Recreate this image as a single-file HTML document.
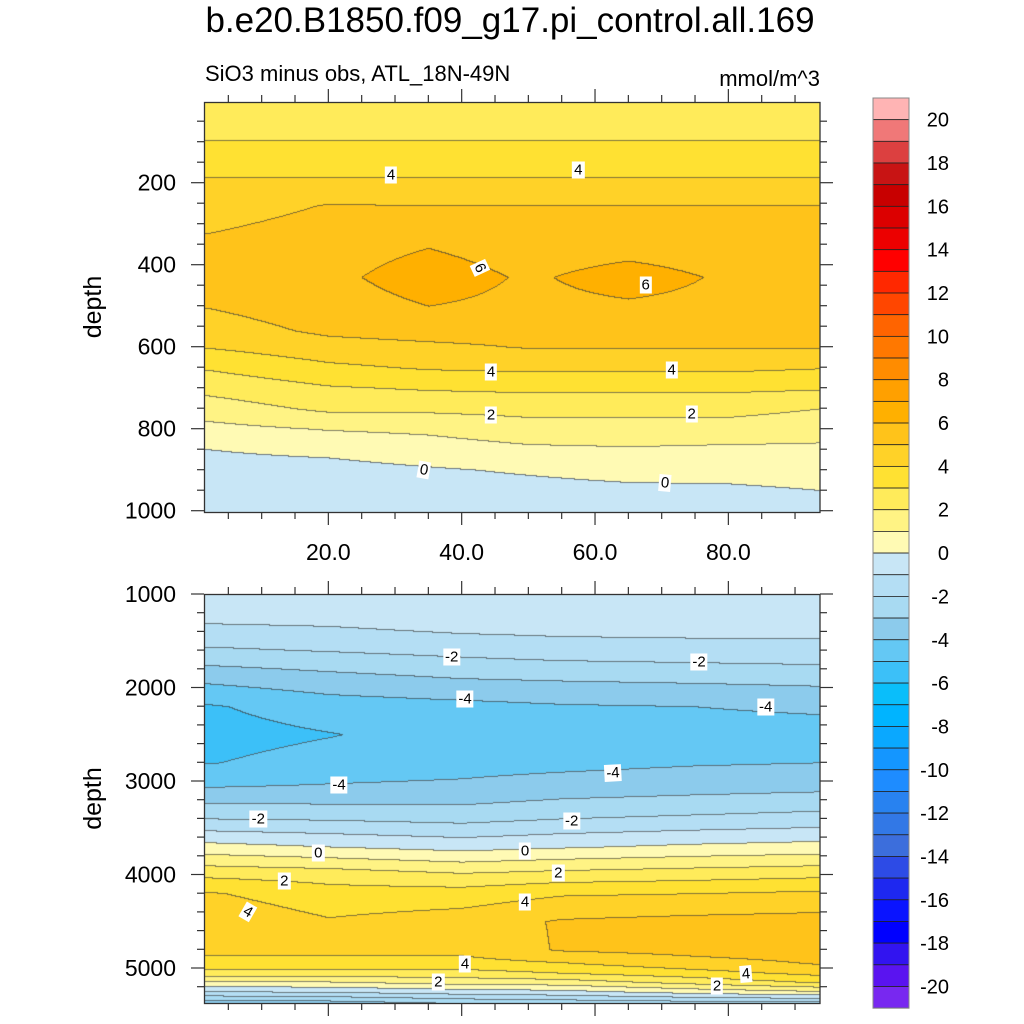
<!DOCTYPE html>
<html><head><meta charset="utf-8">
<style>
html,body{margin:0;padding:0;background:#fff;}
#root{position:relative;width:1024px;height:1024px;overflow:hidden;font-family:"Liberation Sans",sans-serif;color:#000;}
.t{position:absolute;white-space:nowrap;}
canvas{position:absolute;}
.cl{position:absolute;background:#fff;font-size:15px;line-height:17px;padding:0 2px;transform:translate(-50%,-50%);}
</style></head>
<body>
<div id="root">
<div class="t" style="left:0;width:1020px;text-align:center;top:1px;font-size:35px;">b.e20.B1850.f09_g17.pi_control.all.169</div>
<div class="t" style="left:205px;top:61px;font-size:22px;">SiO3 minus obs, ATL_18N-49N</div>
<div class="t" style="left:520px;width:300px;text-align:right;top:66px;font-size:22px;">mmol/m^3</div>
<canvas id="c1" width="616" height="410" style="left:204px;top:102px"></canvas>
<canvas id="c2" width="616" height="409" style="left:204px;top:594px"></canvas>
<svg id="ov" width="1024" height="1024" style="position:absolute;left:0;top:0"></svg>
<div id="labels"></div>
</div>
<script>
// ---- data ----
const colors = ["#FFB4B4","#F07878","#DC4040","#C81414","#C80000","#DC0000","#EC0000","#FF0000","#FF2800","#FF4600","#FF6400","#FF7800","#FF8C00","#FFA000","#FFB000","#FFC31A","#FFD228","#FFE132","#FFEB5A","#FFF384","#FFFAB4",
"#C8E6F6","#B4DEF4","#A8DAF2","#8CCBEC","#64C8F4","#3CC0F8","#0ABEFA","#00B4FF","#0AA8FF","#1496FF","#1E8CFF","#2882F0","#3278E6","#3C6EDC","#2D4BE6","#1E28F0","#0A14FF","#0000FF","#3214F0","#5A14F0","#7828F0"];
const cbLabels = [20,18,16,14,12,10,8,6,4,2,0,-2,-4,-6,-8,-10,-12,-14,-16,-18,-20];
const xTicks = [20,40,60,80];
const xTickLabels = ["20.0","40.0","60.0","80.0"];
const topDepthTicks = [200,400,600,800,1000];
const botDepthTicks = [1000,2000,3000,4000,5000];

const topCols = [2,20,35,50,65,80,94];
const topDepths = [0,50,97,185,255,350,430,500,560,600,650,700,750,800,850,900,950,1000];
const topVals = [
 [2.6,2.8,3,4,4.5,5.2,5.5,5.05,4.5,4.05,3.1,2.3,1.5,0.7,0,-0.3,-0.5,-0.6],
 [2.6,2.8,3,4,5.05,5.6,5.8,5.6,5.2,4.6,3.8,2.9,2.2,1.05,0.2,-0.3,-0.5,-0.6],
 [2.6,2.8,3,4,5.0,5.95,6.4,6.0,5.4,4.8,4.1,3.1,2.2,1.2,0.5,-0.1,-0.4,-0.6],
 [2.6,2.8,3,4,5.0,5.6,5.9,5.8,5.4,5.05,4.2,3.2,2.3,1.6,0.8,0.1,-0.3,-0.5],
 [2.6,2.8,3,4,5.0,5.7,6.3,5.9,5.4,5.05,4.2,3.2,2.3,1.6,0.9,0.3,-0.2,-0.5],
 [2.6,2.8,3,4,5.0,5.6,5.9,5.8,5.4,5.05,4.2,3.2,2.3,1.6,0.8,0.4,-0.2,-0.4],
 [2.6,2.8,3,4,5.0,5.6,5.9,5.8,5.4,5.05,4.05,3.1,2.0,1.4,0.8,0.5,0.0,-0.3]
];
const botCols = [2,20,40,55,75,94];
const botDepths = [1000,1300,1600,1900,2200,2500,2800,3100,3400,3700,4000,4200,4500,4800,4950,5050,5150,5250,5375];
const botVals = [
 [-0.3,-0.95,-2.15,-3.75,-5.1,-5.4,-5.05,-3.85,-2.0,0.35,2.8,4.1,4.8,4.3,3.5,2.6,0.8,-1.05,-3.8],
 [-0.3,-0.85,-1.95,-3.35,-4.5,-5.05,-4.6,-3.8,-2.1,0.0,2.6,3.4,4.1,4.3,3.5,2.6,0.9,-0.9,-3.6],
 [-0.2,-0.55,-1.7,-3.0,-4.3,-4.6,-4.4,-3.7,-2.3,-0.35,2.15,3.45,4.5,4.3,3.6,2.6,1.35,-0.5,-3.0],
 [-0.1,-0.5,-1.5,-2.9,-4.1,-4.5,-4.3,-3.4,-2.0,-0.1,2.4,3.9,5.1,5.1,3.9,3.0,1.5,-0.3,-2.8],
 [0.0,-0.5,-1.4,-2.8,-4.0,-4.5,-4.1,-3.2,-1.8,0.2,2.6,4.0,5.3,5.35,4.6,3.6,2.3,0.4,-2.6],
 [-0.2,-0.6,-1.3,-2.7,-3.8,-4.5,-4.0,-3.05,-1.6,0.4,2.8,4.2,5.4,5.5,5.05,4.3,3.1,0.9,-2.5]
];
const topLabelText = ["4","4","6","6","4","4","2","2","0","0"];
const topLabelX = [29.4,57.5,42.7,67.6,44.4,71.5,44.4,74.5,34.3,70.5];
const topLabelD = [181,169,408,450,662,657,767,764,900,932];
const topLabelRot = [0,0,65,0,0,0,0,0,10,5];
const botLabelText = ["-2","-2","-4","-4","-4","-4","-2","-2","0","0","2","2","4","4","4","2","4","2"];
const botLabelX = [38.5,75.6,40.5,85.6,21.6,62.7,9.5,56.5,18.5,49.5,13.4,54.5,8.0,49.5,40.5,36.5,82.6,78.3];
const botLabelD = [1674,1727,2123,2209,3043,2914,3406,3428,3770,3749,4070,3984,4401,4294,4957,5150,5064,5193];
const botLabelRot = [0,0,0,0,0,-3,0,0,0,0,0,0,30,0,0,0,-5,0];

// ---- scales ----
function xs(x){return 195+x*6.667;}
function ysTop(d){return 100.7+d*0.41;}
function ysBot(d){return 594+(d-1000)*0.0935;}
function colorIndex(v){let i=20-Math.floor(v);return Math.max(0,Math.min(41,i));}
function hex(c){return [parseInt(c.substr(1,2),16),parseInt(c.substr(3,2),16),parseInt(c.substr(5,2),16)];}
const rgb = colors.map(hex);

function interp(arr,v){
  if(v<=arr[0])return[0,0];
  for(let i=0;i<arr.length-1;i++){if(v<=arr[i+1])return[i,(v-arr[i])/(arr[i+1]-arr[i])];}
  return[arr.length-2,1];
}
function sample(cols,depths,vals,x,d){
  const [ci,ct]=interp(cols,x),[di,dt]=interp(depths,d);
  const a=vals[ci][di],b=vals[ci][di+1],c=vals[ci+1][di],e=vals[ci+1][di+1];
  return (a*(1-dt)+b*dt)*(1-ct)+(c*(1-dt)+e*dt)*ct;
}
function drawPanel(id,cols,depths,vals,ys,invY){
  const cv=document.getElementById(id),ctx=cv.getContext('2d');
  const W=cv.width,H=cv.height,left=204,top=parseFloat(cv.style.top);
  const img=ctx.createImageData(W,H);const lv=new Int16Array(W*H);
  for(let j=0;j<H;j++){const d=invY(top+j+0.5);
    for(let i=0;i<W;i++){const x=(left+i+0.5-195)/6.667;
      lv[j*W+i]=colorIndex(sample(cols,depths,vals,x,d));}}
  for(let j=0;j<H;j++)for(let i=0;i<W;i++){
    const k=j*W+i;let c=rgb[lv[k]];let line=(i>0&&lv[k-1]!==lv[k])||(j>0&&lv[k-W]!==lv[k]);
    const p=k*4;
    if(line){img.data[p]=c[0]*0.35+40;img.data[p+1]=c[1]*0.35+40;img.data[p+2]=c[2]*0.35+40;}
    else{img.data[p]=c[0];img.data[p+1]=c[1];img.data[p+2]=c[2];}
    img.data[p+3]=255;}
  ctx.putImageData(img,0,0);
}
drawPanel('c1',topCols,topDepths,topVals,ysTop,y=>(y-100.7)/0.41);
drawPanel('c2',botCols,botDepths,botVals,ysBot,y=>1000+(y-594)/0.0935);

// ---- axes ----
const NS='http://www.w3.org/2000/svg',ov=document.getElementById('ov');
function ln(x1,y1,x2,y2,w,col){const l=document.createElementNS(NS,'line');l.setAttribute('x1',x1);l.setAttribute('y1',y1);l.setAttribute('x2',x2);l.setAttribute('y2',y2);l.setAttribute('stroke',col||'#000');l.setAttribute('stroke-width',w||1);ov.appendChild(l);return l;}
function txt(x,y,s,size,anchor){const t=document.createElementNS(NS,'text');t.setAttribute('x',x);t.setAttribute('y',y);t.setAttribute('font-size',size);t.setAttribute('font-family','Liberation Sans, sans-serif');t.setAttribute('text-anchor',anchor||'middle');t.textContent=s;ov.appendChild(t);return t;}
function panel(top,bot,ysf,d0,d1,dTicks,name,showXLabels){
  const r=document.createElementNS(NS,'rect');r.setAttribute('x',204.5);r.setAttribute('y',top+0.5);r.setAttribute('width',615.5);r.setAttribute('height',bot-top);r.setAttribute('fill','none');r.setAttribute('stroke','#333');r.setAttribute('stroke-width',1.3);
  
  
  ov.appendChild(r);
  for(let x=5;x<94;x+=5){const maj=x%20===0;const X=xs(x);const L=maj?13:7;
    ln(X,top,X,top-L,1.2,'#333');ln(X,bot,X,bot+L,1.2,'#333');}
  const step=(d1-d0)>2000?200:50;
  for(let d=Math.ceil(d0/step)*step;d<=d1;d+=step){const Y=ysf(d);const maj=dTicks.includes(d);const L=maj?13:7;
    ln(204,Y,204-L,Y,1.2,'#333');ln(820,Y,820+L,Y,1.2,'#333');}
  dTicks.forEach(d=>{const t=txt(176,ysf(d)+8,String(d),23,'end');
    
    });
  const yt=txt(0,0,'depth',25,'middle');yt.setAttribute('transform','translate(101,'+((top+bot)/2)+') rotate(-90)');
  
  
  if(showXLabels){xTicks.forEach((x,i)=>{const t=txt(xs(x),560,xTickLabels[i],23,'middle');
    
    });}
}
panel(102,512,ysTop,4,1003,topDepthTicks,'top-panel',true);
panel(594,1003,ysBot,1000,5374,botDepthTicks,'bottom-panel',false);

// ---- colorbar ----
const cbTop=98,cbH=21.67;
colors.forEach((c,i)=>{const r=document.createElementNS(NS,'rect');r.setAttribute('x',873);r.setAttribute('y',cbTop+i*cbH);r.setAttribute('width',36);r.setAttribute('height',cbH);r.setAttribute('fill',c);r.setAttribute('stroke','#222');r.setAttribute('stroke-width',0.8);
  
  
  ov.appendChild(r);});
const fr=document.createElementNS(NS,'rect');fr.setAttribute('x',873);fr.setAttribute('y',cbTop);fr.setAttribute('width',36);fr.setAttribute('height',cbH*42);fr.setAttribute('fill','none');fr.setAttribute('stroke','#888');fr.setAttribute('stroke-width',1);ov.appendChild(fr);
cbLabels.forEach(v=>{const y=cbTop+(20-v+1)*cbH;const t=txt(949,y+7,String(v),20,'end');
  
  });

// ---- contour labels ----
const lab=document.getElementById('labels');
function addLabels(texts,xsArr,ds,rots,ysf,name){texts.forEach((s,i)=>{const d=document.createElement('div');d.className='cl';
  d.style.left=xs(xsArr[i])+'px';d.style.top=ysf(ds[i])+'px';d.style.transform='translate(-50%,-50%) rotate('+rots[i]+'deg)';d.textContent=s;
  
  
  lab.appendChild(d);});}
addLabels(topLabelText,topLabelX,topLabelD,topLabelRot,ysTop,'top-contour-label');
addLabels(botLabelText,botLabelX,botLabelD,botLabelRot,ysBot,'bottom-contour-label');
</script>
</body></html>
